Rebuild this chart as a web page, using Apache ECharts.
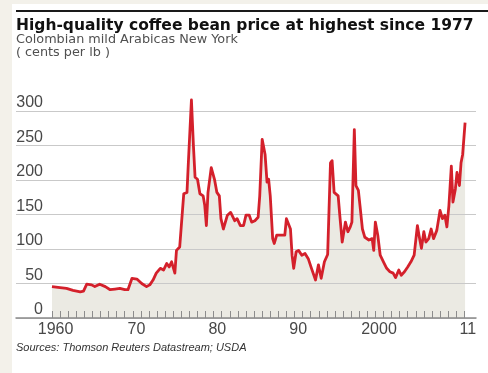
<!DOCTYPE html>
<html>
<head>
<meta charset="utf-8">
<script src="https://cdn.jsdelivr.net/npm/echarts@6/dist/echarts.min.js"></script>
<style>
  html, body { margin: 0; padding: 0; background: #f3f1ea; }
  #chart { width: 488px; height: 373px; }
</style>
</head>
<body>
<div id="chart"></div>
<script>
// Colombian mild Arabicas, New York, cents per lb (approximate readings)
const priceYears = [
  1960.0, 1961.0, 1961.8, 1962.6, 1963.5, 1963.9, 1964.3, 1964.9, 1965.3, 1965.9,
  1966.6, 1967.2, 1967.8, 1968.4, 1969.0, 1969.4, 1969.9, 1970.5, 1971.1, 1971.7,
  1972.1, 1972.5, 1972.9, 1973.4, 1973.8, 1974.2, 1974.5, 1974.8, 1975.2, 1975.4,
  1975.8, 1976.3, 1976.7, 1976.87, 1977.25, 1977.5, 1977.7, 1978.0, 1978.3, 1978.7,
  1978.9, 1979.1, 1979.3, 1979.7, 1980.1, 1980.4, 1980.7, 1980.9, 1981.2, 1981.4,
  1981.7, 1982.1, 1982.6, 1982.9, 1983.3, 1983.7, 1984.0, 1984.4, 1984.7, 1985.1,
  1985.5, 1985.7, 1986.0, 1986.36, 1986.6, 1986.8, 1987.0, 1987.3, 1987.5, 1987.8,
  1988.2, 1988.8, 1989.0, 1989.2, 1989.5, 1989.7, 1989.9, 1990.2, 1990.5, 1990.9,
  1991.3, 1991.7, 1992.1, 1992.6, 1992.96, 1993.3, 1993.7, 1994.1, 1994.45, 1994.65,
  1994.9, 1995.4, 1995.6, 1995.9, 1996.3, 1996.6, 1996.9, 1997.1, 1997.4, 1997.6,
  1997.9, 1998.1, 1998.4, 1998.7, 1999.2, 1999.6, 1999.8, 2000.0, 2000.3, 2000.6,
  2001.0, 2001.4, 2001.8, 2002.2, 2002.5, 2002.9, 2003.2, 2003.6, 2004.0, 2004.4,
  2004.8, 2005.2, 2005.4, 2005.7, 2006.0, 2006.25, 2006.6, 2006.9, 2007.2, 2007.6,
  2008.0, 2008.3, 2008.6, 2008.85, 2009.1, 2009.4, 2009.6, 2009.9, 2010.1, 2010.4,
  2010.6, 2010.8, 2011.1
];
const priceValues = [
  45.5, 44, 43, 40, 38, 39, 49, 48, 45.5, 49,
  45.5, 41, 42, 43, 41, 41, 57.5, 56.5, 50, 45.5,
  48, 55, 65, 72, 69.5, 79, 74, 81.5, 65, 98,
  103, 180, 182, 225, 316, 249, 204, 201, 180, 177,
  163, 134, 182, 218, 201, 182, 177, 144, 129, 127,
  149, 153, 141, 144, 134, 134, 149, 149, 139, 141,
  146, 177, 259, 237, 197, 201, 177, 115, 108, 120,
  120, 120, 144, 146, 129, 91, 72, 96, 98, 91,
  93.5, 86, 72, 55, 77, 57.5, 81.5, 92, 225, 228,
  182, 177, 149, 110, 139, 125, 132, 139, 273, 192,
  185, 163, 129, 117, 113, 115, 98, 139, 120, 91,
  81.5, 72, 67, 65, 58.5, 69.5, 62, 67, 74, 81.5,
  91, 134, 120, 101, 125, 110, 115, 129, 115, 127,
  156, 144, 149, 132, 163, 220, 168, 187, 211, 192,
  225, 237, 283
];

// Axis ticks and labels
const tickYears = [];
for (let y = 1960; y <= 2011; y++) tickYears.push(y);
const xLabelYears = [1960, 1970, 1980, 1990, 2000, 2011];
const xLabelText = ['1960', '70', '80', '90', '2000', '11'];
const yMin = 0, yMax = 300, yStep = 50;

const seriesData = priceYears.map((yr, i) => [yr, priceValues[i]]);
// labels sit in the middle of their year
const labelPositions = xLabelYears.map(y => y + 0.45);

const chart = echarts.init(document.getElementById('chart'), null, { renderer: 'canvas' });
const font = '"Liberation Sans", Arial, sans-serif';
const headFont = '"DejaVu Sans", "Liberation Sans", sans-serif';

chart.setOption({
  backgroundColor: '#f3f1ea',
  animation: false,
  graphic: [
    { type: 'rect', left: 12, top: 4, shape: { width: 476, height: 369 }, style: { fill: '#ffffff' }, z: -10 },
    { type: 'rect', left: 16, top: 10, shape: { width: 472, height: 2 }, style: { fill: '#1a1a1a' } },
    { type: 'text', left: 16, top: 18, style: { text: 'High-quality coffee bean price at highest since 1977', fill: '#111', font: 'bold 15.5px ' + headFont } },
    { type: 'text', left: 16, top: 33, style: { text: 'Colombian mild Arabicas New York', fill: '#505050', font: '12.8px ' + headFont } },
    { type: 'text', left: 16, top: 46, style: { text: '( cents per lb )', fill: '#505050', font: '12.8px ' + headFont } },
    { type: 'text', left: 16, top: 342, style: { text: 'Sources: Thomson Reuters Datastream; USDA', fill: '#333', font: 'italic 11px ' + font } }
  ],
  grid: { left: 16, right: 12, top: 111, bottom: 55, containLabel: false },
  xAxis: {
    type: 'value',
    min: 1955.55,
    max: 2012.45,
    z: 4,
    axisLine: { show: true, lineStyle: { color: '#8a8a8a', width: 1.5 } },
    axisTick: {
      show: true, inside: true, length: 7,
      customValues: tickYears,
      lineStyle: { color: '#8c8c8c', width: 1 }
    },
    axisLabel: {
      show: true,
      customValues: labelPositions,
      formatter: v => {
        const i = labelPositions.findIndex(p => Math.abs(p - v) < 0.01);
        return i >= 0 ? xLabelText[i] : '';
      },
      color: '#484848',
      fontFamily: font,
      fontSize: 16,
      margin: 4
    },
    splitLine: { show: false }
  },
  yAxis: {
    type: 'value',
    min: yMin,
    max: yMax,
    interval: yStep,
    z: 3,
    axisLine: { show: false },
    axisTick: { show: false },
    axisLabel: {
      inside: true,
      align: 'right',
      verticalAlign: 'bottom',
      margin: 27,
      color: '#484848',
      fontFamily: font,
      fontSize: 16
    },
    splitLine: { show: true, lineStyle: { color: '#c9c9c9', width: 1.2 } }
  },
  series: [
    {
      type: 'line',
      data: seriesData,
      symbol: 'none',
      clip: false,
      z: 1,
      lineStyle: { width: 0, opacity: 0 },
      areaStyle: { color: '#ebeae3', opacity: 1 }
    },
    {
      type: 'line',
      data: seriesData,
      symbol: 'none',
      clip: false,
      z: 5,
      lineStyle: { color: '#d4202b', width: 2.8, join: 'round' }
    }
  ]
});
</script>
</body>
</html>
